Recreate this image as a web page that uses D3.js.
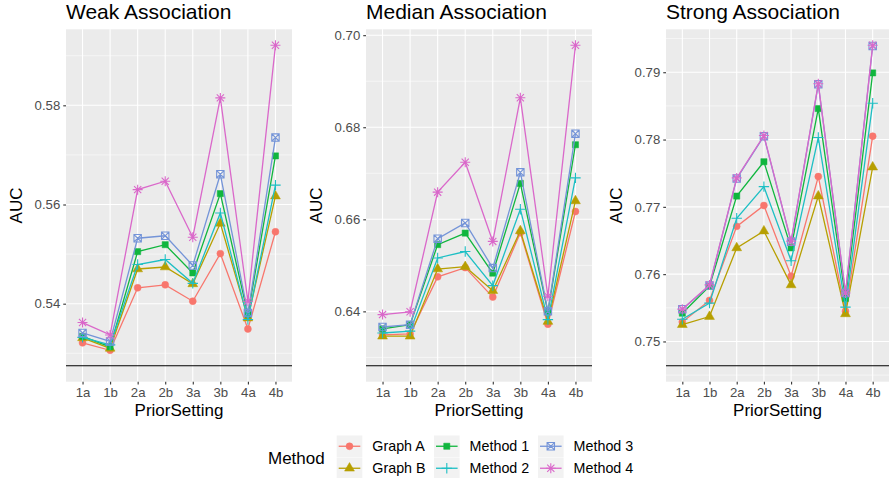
<!DOCTYPE html>
<html>
<head>
<meta charset="utf-8">
<script src="https://cdn.jsdelivr.net/npm/d3@7"></script>
<style>
  body { margin: 0; background: #fff; }
  svg { font-family: "Liberation Sans", Arial, sans-serif; }
</style>
</head>
<body>
<svg id="chart" width="889" height="478"></svg>
<script>
"use strict"

//categories and series names
const priorSettings = ['1a', '1b', '2a', '2b', '3a', '3b', '4a', '4b'];
const methods = ['Graph A', 'Graph B', 'Method 1', 'Method 2', 'Method 3', 'Method 4'];
const methodColors = ['#F8766D', '#B79F00', '#10B63E', '#1DBFC4', '#7494D8', '#DA68CA'];
const methodShapes = ['circle', 'triangle', 'square', 'plus', 'squarex', 'asterisk'];

//AUC values, one row per method (same order as methods)
const weakAUC = [
    [0.5321, 0.5306, 0.5432, 0.5438, 0.5405, 0.5501, 0.5349, 0.5545],
    [0.5331, 0.5310, 0.5470, 0.5474, 0.5440, 0.5562, 0.5371, 0.5617],
    [0.5334, 0.5313, 0.5505, 0.5519, 0.5462, 0.5622, 0.5378, 0.5698],
    [0.5332, 0.5317, 0.5479, 0.5489, 0.5441, 0.5583, 0.5368, 0.5639],
    [0.5341, 0.5324, 0.5532, 0.5537, 0.5477, 0.5661, 0.5381, 0.5735],
    [0.5362, 0.5337, 0.5630, 0.5647, 0.5534, 0.5815, 0.5405, 0.5921]
];
const medianAUC = [
    [0.6349, 0.6351, 0.6475, 0.6495, 0.6431, 0.6571, 0.6372, 0.6617],
    [0.6346, 0.6346, 0.6492, 0.6497, 0.6445, 0.6575, 0.6378, 0.6640],
    [0.6362, 0.6371, 0.6545, 0.6570, 0.6483, 0.6678, 0.6399, 0.6762],
    [0.6353, 0.6357, 0.6516, 0.6530, 0.6456, 0.6622, 0.6382, 0.6690],
    [0.6366, 0.6371, 0.6558, 0.6592, 0.6494, 0.6702, 0.6400, 0.6786],
    [0.6393, 0.6399, 0.6659, 0.6724, 0.6552, 0.6864, 0.6433, 0.6978]
];
const strongAUC = [
    [0.7529, 0.7561, 0.7671, 0.7702, 0.7597, 0.7745, 0.7545, 0.7805],
    [0.7525, 0.7537, 0.7639, 0.7664, 0.7584, 0.7716, 0.7541, 0.7759],
    [0.7542, 0.7582, 0.7716, 0.7767, 0.7639, 0.7846, 0.7564, 0.7899],
    [0.7533, 0.7557, 0.7683, 0.7730, 0.7620, 0.7803, 0.7551, 0.7854],
    [0.7548, 0.7583, 0.7742, 0.7805, 0.7648, 0.7882, 0.7572, 0.7939],
    [0.7548, 0.7584, 0.7743, 0.7806, 0.7649, 0.7883, 0.7572, 0.7940]
];

//reference line per panel
const baselineAUC = [0.5275, 0.6282, 0.7464];

//panel titles and y tick labels
const panelTitles = ['Weak Association', 'Median Association', 'Strong Association'];
const weakTicks = [0.54, 0.56, 0.58];
const medianTicks = [0.64, 0.66, 0.68, 0.70];
const strongTicks = [0.75, 0.76, 0.77, 0.78, 0.79];

const panelData = [weakAUC, medianAUC, strongAUC];
const panelTicks = [weakTicks, medianTicks, strongTicks];

//--------------------------------------//
//--------------LAYOUT------------------//
//--------------------------------------//

const svg = d3.select('#chart');
const panelLeft = [66, 366, 666];
const panelRight = [292, 592, 889];
const panelTop = 29.3;
const panelBottom = 381.7;

const tickColor = '#333333';
const textColor = '#4D4D4D';

//builds a path for a marker shape centred at 0,0
function shapePath(shape) {
    switch (shape) {
        case 'circle':
            return d3.symbol().type(d3.symbolCircle).size(38)();
        case 'triangle':
            return d3.symbol().type(d3.symbolTriangle).size(42)();
        case 'square':
            return d3.symbol().type(d3.symbolSquare).size(38)();
        case 'plus':
            return 'M-5.2,0H5.2M0,-5.2V5.2';
        case 'squarex':
            return 'M-3.7,-3.7H3.7V3.7H-3.7Z M-3.7,-3.7L3.7,3.7M3.7,-3.7L-3.7,3.7';
        case 'asterisk':
            return 'M-5,0H5M0,-5V5M-3.6,-3.6L3.6,3.6M3.6,-3.6L-3.6,3.6';
    }
}

function isFilled(shape) {
    return shape === 'circle' || shape === 'triangle' || shape === 'square';
}

function drawMarker(g, shape, color) {
    g.append('path')
        .attr('d', shapePath(shape))
        .attr('fill', isFilled(shape) ? color : 'none')
        .attr('stroke', color)
        .attr('stroke-width', isFilled(shape) ? 0.5 : 1.1);
}

//draws a single facet panel
function drawPanel(i) {
    const values = panelData[i];
    const left = panelLeft[i];
    const right = panelRight[i];

    //x scale: discrete with ggplot's 0.6 expansion
    const x = d3.scalePoint()
        .domain(priorSettings)
        .range([left, right])
        .padding(0.6);

    //y scale: data range plus the reference line, expanded by 5%
    const allVals = values.flat().concat([baselineAUC[i]]);
    const lo = d3.min(allVals);
    const hi = d3.max(allVals);
    const pad = (hi - lo) * 0.05;
    const y = d3.scaleLinear()
        .domain([lo - pad, hi + pad])
        .range([panelBottom, panelTop]);

    const g = svg.append('g');

    //panel background
    g.append('rect')
        .attr('x', left)
        .attr('y', panelTop)
        .attr('width', right - left)
        .attr('height', panelBottom - panelTop)
        .attr('fill', '#EBEBEB');

    //minor grid lines halfway between the major ticks
    const ticks = panelTicks[i];
    const step = ticks[1] - ticks[0];
    const minor = [];
    for (let k = -1; k < ticks.length; k++) {
        const v = ticks[0] + step * (k + 0.5);
        if (y(v) >= panelTop && y(v) <= panelBottom) minor.push(v);
    }
    g.selectAll('.minor')
        .data(minor)
        .enter().append('line')
        .attr('x1', left).attr('x2', right)
        .attr('y1', d => y(d)).attr('y2', d => y(d))
        .attr('stroke', '#fff')
        .attr('stroke-width', 0.55);

    //major grid lines
    g.selectAll('.hmajor')
        .data(ticks)
        .enter().append('line')
        .attr('x1', left).attr('x2', right)
        .attr('y1', d => y(d)).attr('y2', d => y(d))
        .attr('stroke', '#fff')
        .attr('stroke-width', 1.1);

    g.selectAll('.vmajor')
        .data(priorSettings)
        .enter().append('line')
        .attr('x1', d => x(d)).attr('x2', d => x(d))
        .attr('y1', panelTop).attr('y2', panelBottom)
        .attr('stroke', '#fff')
        .attr('stroke-width', 1.1);

    //reference line
    g.append('line')
        .attr('x1', left).attr('x2', right)
        .attr('y1', y(baselineAUC[i])).attr('y2', y(baselineAUC[i]))
        .attr('stroke', '#000')
        .attr('stroke-width', 1.1);

    //lines then markers for each method
    const line = d3.line()
        .x((d, j) => x(priorSettings[j]))
        .y(d => y(d));

    methods.forEach((m, mi) => {
        g.append('path')
            .datum(values[mi])
            .attr('d', line)
            .attr('fill', 'none')
            .attr('stroke', methodColors[mi])
            .attr('stroke-width', 1.3);

        values[mi].forEach((v, j) => {
            const mg = g.append('g')
                .attr('transform', `translate(${x(priorSettings[j])},${y(v)})`);
            drawMarker(mg, methodShapes[mi], methodColors[mi]);
        });
    });

    //axes
    const yAxis = d3.axisLeft(y)
        .tickValues(ticks)
        .tickFormat(d3.format('.2f'))
        .tickSize(2.75)
        .tickPadding(3);
    const yg = svg.append('g')
        .attr('transform', `translate(${left},0)`)
        .call(yAxis);

    const xAxis = d3.axisBottom(x)
        .tickSize(2.75)
        .tickPadding(3);
    const xg = svg.append('g')
        .attr('transform', `translate(0,${panelBottom})`)
        .call(xAxis);

    [yg, xg].forEach(ax => {
        ax.select('.domain').remove();
        ax.selectAll('.tick line').attr('stroke', tickColor).attr('stroke-width', 1.1);
        ax.selectAll('.tick text')
            .attr('fill', textColor)
            .style('font-size', '13.2px')
            .style('font-family', '"Liberation Sans", Arial, sans-serif');
    });

    //panel title
    svg.append('text')
        .attr('x', left)
        .attr('y', 19)
        .style('font-size', '21px')
        .attr('fill', '#000')
        .text(panelTitles[i]);

    //axis titles
    svg.append('text')
        .attr('x', (left + right) / 2)
        .attr('y', 416)
        .attr('text-anchor', 'middle')
        .style('font-size', '17px')
        .text('PriorSetting');

    svg.append('text')
        .attr('transform', `translate(${left - 44},${(panelTop + panelBottom) / 2}) rotate(-90)`)
        .attr('text-anchor', 'middle')
        .style('font-size', '17px')
        .text('AUC');
}

[0, 1, 2].forEach(drawPanel);

//--------------------------------------//
//--------------LEGEND------------------//
//--------------------------------------//

const legendCols = [336.7, 434, 538];
const legendRows = [435.5, 457.5];
const keyW = 25.6;
const keyH = 21.5;

svg.append('text')
    .attr('x', 268)
    .attr('y', 464)
    .style('font-size', '17px')
    .text('Method');

methods.forEach((m, mi) => {
    const col = Math.floor(mi / 2);
    const row = mi % 2;
    const kx = legendCols[col];
    const ky = legendRows[row];

    svg.append('rect')
        .attr('x', kx).attr('y', ky)
        .attr('width', keyW).attr('height', keyH)
        .attr('fill', '#F2F2F2');

    svg.append('line')
        .attr('x1', kx + 2).attr('x2', kx + keyW - 2)
        .attr('y1', ky + keyH / 2).attr('y2', ky + keyH / 2)
        .attr('stroke', methodColors[mi])
        .attr('stroke-width', 1.3);

    const mg = svg.append('g')
        .attr('transform', `translate(${kx + keyW / 2},${ky + keyH / 2})`);
    drawMarker(mg, methodShapes[mi], methodColors[mi]);

    svg.append('text')
        .attr('x', kx + keyW + 10)
        .attr('y', ky + keyH / 2 + 5)
        .style('font-size', '14.3px')
        .text(m);
});
</script>
</body>
</html>
